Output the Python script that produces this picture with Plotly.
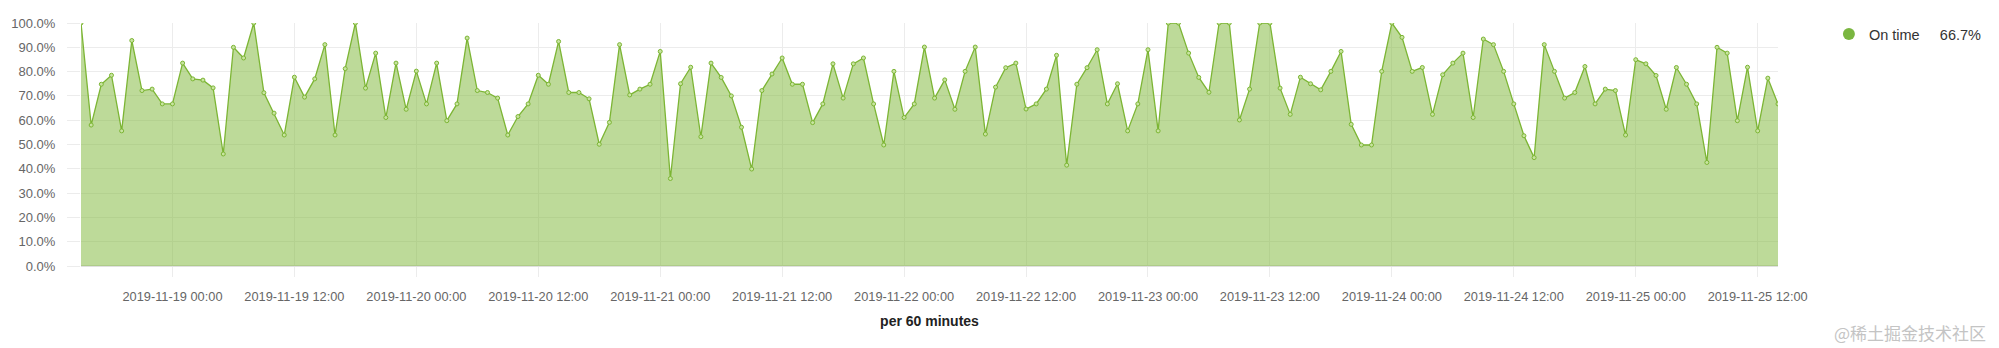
import pandas as pd
import plotly.graph_objects as go

start_time = "2019-11-18 15:00"
series_name = "On time"
on_time_pct = [
    100, 58.0, 74.8, 78.5, 55.6, 92.8, 72.2, 72.8, 66.7, 66.7,
    83.5, 77.0, 76.5, 73.3, 46.1, 90.0, 85.6, 100, 71.3, 62.9,
    53.9, 77.7, 69.5, 77.0, 91.1, 53.9, 81.2, 100, 73.2, 87.6,
    61.1, 83.5, 64.5, 80.2, 66.7, 83.5, 59.8, 66.7, 93.8, 72.2,
    71.4, 69.1, 53.9, 61.5, 66.7, 78.5, 74.8, 92.4, 71.4, 71.4,
    68.8, 50.1, 59.1, 91.1, 70.4, 72.8, 74.8, 88.3, 36.0, 75.0,
    81.8, 53.2, 83.5, 77.6, 70.0, 57.1, 39.9, 72.2, 79.0, 85.6,
    74.8, 74.8, 59.0, 66.7, 83.2, 69.1, 83.2, 85.6, 66.7, 49.8,
    80.1, 61.1, 66.7, 90.1, 69.1, 76.6, 64.5, 80.1, 90.1, 54.3,
    73.6, 81.6, 83.5, 64.6, 66.7, 72.8, 86.7, 41.5, 74.8, 81.6,
    89.0, 66.7, 75.0, 55.6, 66.7, 89.0, 55.6, 100, 100, 87.6,
    77.6, 71.5, 100, 100, 60.1, 72.8, 100, 100, 73.2, 62.4,
    77.7, 75.0, 72.5, 80.1, 88.3, 58.3, 49.8, 49.8, 80.1, 100,
    94.1, 80.1, 81.7, 62.4, 78.7, 83.5, 87.6, 61.1, 93.4, 91.1,
    80.1, 66.7, 53.6, 44.6, 91.1, 80.1, 69.1, 71.4, 82.1, 66.7,
    72.8, 72.2, 53.9, 84.9, 83.2, 78.4, 64.5, 81.7, 74.8, 66.7,
    42.6, 90.0, 87.6, 59.8, 81.8, 55.6, 77.3, 66.7,
]
times = pd.date_range(start_time, periods=len(on_time_pct), freq="h")
x_title = "per 60 minutes"
watermark = "@稀土掘金技术社区"

LINE = "rgb(124,181,52)"
FILL = "rgba(124,181,52,0.5)"
GRID = "#ececec"
FONT = "Helvetica Neue, Liberation Sans, Arial, sans-serif"

fig = go.Figure()
fig.add_trace(go.Scatter(
    x=times, y=on_time_pct, mode="lines+markers",
    line=dict(color=LINE, width=1.3),
    marker=dict(size=4, color="rgb(200,228,160)", line=dict(color=LINE, width=1)),
    fill="tozeroy", fillcolor=FILL, showlegend=False, hoverinfo="skip",
))
fig.add_trace(go.Scatter(
    x=[None], y=[None], mode="markers",
    marker=dict(size=10, color="rgb(122,182,64)"),
    name=f"{series_name}&nbsp;&nbsp;&nbsp;&nbsp;&nbsp;{on_time_pct[-1]:.1f}%",
    showlegend=True,
))

fig.update_layout(
    width=1999, height=348,
    margin=dict(l=81, r=219, t=23, b=82),
    paper_bgcolor="white", plot_bgcolor="white",
    font=dict(family=FONT, size=12, color="#666"),
    legend=dict(x=1.030, y=1.02, xanchor="left", yanchor="top",
                font=dict(size=14.5, color="#333"), itemsizing="constant",
                itemwidth=30, bgcolor="rgba(0,0,0,0)"),
    annotations=[dict(text=watermark, xref="paper", yref="paper",
                      x=1.1236, y=-0.2735, xanchor="right", yanchor="middle",
                      showarrow=False,
                      font=dict(family="Noto Sans CJK SC", size=17, color="#c4c4c4"))],
)
fig.update_xaxes(
    range=[times[0], times[-1]], type="date",
    dtick=12 * 3600 * 1000, tick0="2019-11-19 00:00",
    tickformat="%Y-%m-%d %H:%M",
    showgrid=True, gridcolor=GRID, gridwidth=1,
    ticks="outside", ticklen=10, tickcolor=GRID,
    ticklabelstandoff=9,
    showline=False, zeroline=False,
    tickfont=dict(size=12.8, color="#666"),
    title=dict(text=f"<b>{x_title}</b>", font=dict(size=14, color="#222"), standoff=12),
)
fig.update_yaxes(
    range=[0, 100], dtick=10, tickformat=".1f", ticksuffix="%",
    showgrid=True, gridcolor=GRID, gridwidth=1,
    ticks="outside", ticklen=13, tickcolor=GRID,
    ticklabelstandoff=9,
    showline=False, zeroline=True, zerolinecolor="#e0e0e0",
    tickfont=dict(size=13, color="#666"),
)
fig.write_html("out.html")
